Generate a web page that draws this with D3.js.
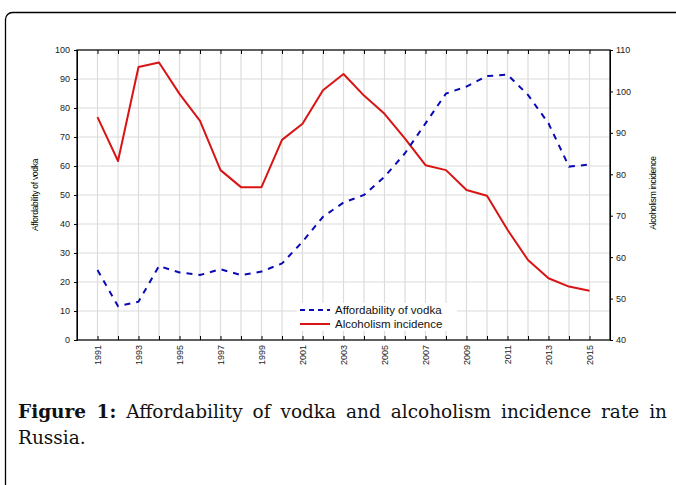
<!DOCTYPE html>
<html>
<head>
<meta charset="utf-8">
<script src="https://cdn.jsdelivr.net/npm/d3@7/dist/d3.min.js"></script>
<style>
  body { margin: 0; background: #fff; }
  svg { display: block; }
</style>
</head>
<body>
<div id="chart"></div>
<script>
// data
const years = d3.range(1991, 2016);
const affordability = [24.1, 11.7, 13.2, 25.5, 23.3, 22.4, 24.4, 22.4, 23.6, 26.4,
    33.9, 42.5, 47.4, 50.0, 56.3, 64.4, 74.7, 85.0, 87.4, 91.0,
    91.5, 84.5, 74.7, 59.8, 60.5];
const incidence = [93.8, 83.2, 105.9, 107.0, 99.4, 92.9, 81.0, 76.9, 76.9, 88.3,
    92.2, 100.3, 104.2, 99.0, 94.6, 88.6, 82.2, 81.0, 76.2, 74.8,
    66.6, 59.3, 54.9, 52.9, 51.9];
const leftTicks = d3.range(0, 101, 10);
const rightTicks = d3.range(40, 111, 10);
const yearLabels = d3.range(1991, 2016, 2);
const legendKeys = ['Affordability of vodka', 'Alcoholism incidence'];

const W = 676, H = 485;
const plot = { left: 77, right: 610, top: 50, bottom: 340 };
const blue = '#0a0ab4';
const red = '#d81414';
const grid = '#dcdcdc';

const svg = d3.select('#chart')
    .append('svg')
    .attr('width', W)
    .attr('height', H);

// frame round the figure
svg.append('rect')
    .attr('x', 5.5).attr('y', 12.5)
    .attr('width', 700).attr('height', 500)
    .attr('rx', 7)
    .style('fill', 'none')
    .style('stroke', '#000')
    .style('stroke-width', 1.3);

const xScale = d3.scaleLinear().domain([1990, 2016]).range([plot.left, plot.right]);
const yLeft = d3.scaleLinear().domain([0, 100]).range([plot.bottom, plot.top]);
const yRight = d3.scaleLinear().domain([40, 110]).range([plot.bottom, plot.top]);

// grid
svg.append('g').selectAll('line')
    .data(years)
    .enter().append('line')
    .attr('x1', d => xScale(d)).attr('x2', d => xScale(d))
    .attr('y1', plot.top).attr('y2', plot.bottom)
    .style('stroke', grid).style('stroke-width', 1.2);
svg.append('g').selectAll('line')
    .data(leftTicks)
    .enter().append('line')
    .attr('x1', plot.left).attr('x2', plot.right)
    .attr('y1', d => yLeft(d)).attr('y2', d => yLeft(d))
    .style('stroke', grid).style('stroke-width', 1.2);

// axes
const axisFont = 'Arial, "Liberation Sans", sans-serif';
svg.append('g')
    .attr('transform', `translate(${plot.left},0)`)
    .call(d3.axisLeft(yLeft).tickValues(leftTicks).tickSize(3).tickPadding(4))
    .call(g => g.selectAll('text').style('font-size', '9px').style('font-family', axisFont).attr('fill', '#222'));
svg.append('g')
    .attr('transform', `translate(${plot.right},0)`)
    .call(d3.axisRight(yRight).tickValues(rightTicks).tickSize(3).tickPadding(3))
    .call(g => g.selectAll('text').style('font-size', '9px').style('font-family', axisFont).attr('fill', '#222'));
svg.append('g')
    .attr('transform', `translate(0,${plot.bottom})`)
    .call(d3.axisBottom(xScale).tickValues(years).tickSize(-4).tickFormat(''))
    .call(g => g.select('.domain').remove());
svg.append('g')
    .attr('transform', `translate(0,${plot.top})`)
    .call(d3.axisTop(xScale).tickValues(years).tickSize(-4).tickFormat(''))
    .call(g => g.select('.domain').remove());
svg.append('rect')
    .attr('x', plot.left).attr('y', plot.top)
    .attr('width', plot.right - plot.left).attr('height', plot.bottom - plot.top)
    .style('fill', 'none').style('stroke', '#000').style('stroke-width', 1.2);

// rotated year labels
svg.append('g').selectAll('text')
    .data(yearLabels)
    .enter().append('text')
    .attr('transform', d => `translate(${xScale(d) + 3},${plot.bottom + 5}) rotate(-90)`)
    .attr('text-anchor', 'end')
    .style('font-size', '9px')
    .style('font-family', axisFont)
    .style('fill', '#222')
    .text(d => d);

// axis titles
svg.append('text')
    .attr('transform', `translate(38,195) rotate(-90)`)
    .attr('text-anchor', 'middle')
    .style('font-size', '8.5px').style('font-family', axisFont).style('letter-spacing', '-0.3px')
    .text('Affordability of vodka');
svg.append('text')
    .attr('transform', `translate(656,193) rotate(-90)`)
    .attr('text-anchor', 'middle')
    .style('font-size', '8.5px').style('font-family', axisFont).style('letter-spacing', '-0.3px')
    .text('Alcoholism incidence');

// series
const lineL = d3.line().x((d, i) => xScale(years[i])).y(d => yLeft(d));
const lineR = d3.line().x((d, i) => xScale(years[i])).y(d => yRight(d));

svg.append('path')
    .datum(incidence)
    .style('fill', 'none')
    .attr('stroke', red)
    .attr('stroke-width', 2)
    .attr('stroke-linejoin', 'round')
    .attr('d', lineR);

svg.append('path')
    .datum(affordability)
    .style('fill', 'none')
    .attr('stroke', blue)
    .attr('stroke-width', 2)
    .attr('stroke-dasharray', '6 6')
    .attr('d', lineL);

// legend
const legend = svg.append('g').attr('transform', 'translate(300,310)');
legend.append('rect')
    .attr('x', -3).attr('y', -7)
    .attr('width', 160).attr('height', 28)
    .style('fill', '#fff');
const colors = [blue, red];
const dashes = ['5 4', null];
legendKeys.forEach((k, i) => {
    legend.append('line')
        .attr('x1', 0).attr('x2', 30)
        .attr('y1', i * 14).attr('y2', i * 14)
        .attr('stroke', colors[i])
        .attr('stroke-width', 2)
        .attr('stroke-dasharray', dashes[i]);
    legend.append('text')
        .attr('x', 35).attr('y', i * 14 + 4)
        .style('font-size', '11.5px')
        .style('font-family', axisFont)
        .style('fill', '#111')
        .text(k);
});

// caption
const capFont = '"DejaVu Serif", serif';
const cap1 = svg.append('text')
    .attr('x', 18).attr('y', 418)
    .style('font-size', '18.5px')
    .style('font-family', capFont)
    .style('fill', '#111');
cap1.append('tspan').style('font-weight', 'bold').text('Figure 1:');
cap1.append('tspan').text(' Affordability of vodka and alcoholism incidence rate in');
// justify the first line to the right edge like the original
const gaps = 9;
const extra = (667 - 18 - cap1.node().getComputedTextLength()) / gaps;
cap1.style('word-spacing', extra + 'px');

svg.append('text')
    .attr('x', 18).attr('y', 444)
    .style('font-size', '18.5px')
    .style('font-family', capFont)
    .style('fill', '#111')
    .text('Russia.');
</script>
</body>
</html>
